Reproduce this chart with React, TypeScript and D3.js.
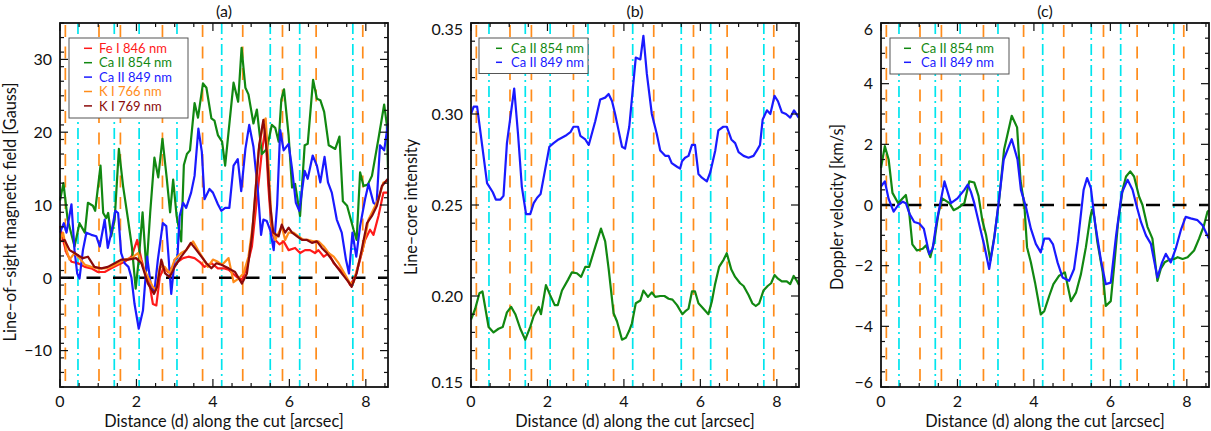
import React from 'react';
import * as d3 from 'd3';

type Pt = [number, number];

// positions of the marked features along the cut [arcsec]
const orangeMarks = [0.14, 1.02, 1.58, 2.68, 3.73, 4.78, 5.82, 6.7, 7.92];
const cyanMarks = [0.47, 1.42, 2.07, 3.06, 4.23, 5.5, 6.27, 7.66];

const xTicks = [0, 2, 4, 6, 8];
const xLabel = 'Distance (d) along the cut [arcsec]';

// (a) line-of-sight magnetic field [Gauss]
const feI846: Pt[] = [
  [0, 7.1], [0.08, 5.2], [0.17, 3.4], [0.3, 2.2], [0.47, 2.0], [0.65, 1.5], [0.82, 1.3], [0.99, 0.8],
  [1.17, 0.8], [1.34, 1.3], [1.52, 1.8], [1.69, 2.2], [1.87, 2.9], [2.02, 5.2], [2.13, 2.5], [2.23, 0.6],
  [2.34, -0.8], [2.43, -3.6], [2.52, -3.8], [2.61, 0.1], [2.72, 1.5], [2.82, 0.8], [2.95, 1.5], [3.08, 2.2],
  [3.22, 2.7], [3.36, 2.9], [3.52, 2.7], [3.65, 2.2], [3.78, 1.5], [3.96, 2.0], [4.13, 1.3], [4.3, 1.3],
  [4.41, 1.1], [4.63, 0.1], [4.76, -0.3], [4.89, 1.5], [5.02, 4.3], [5.15, 10.8], [5.28, 17.3], [5.37, 20.5],
  [5.45, 12.6], [5.54, 6.2], [5.63, 5.2], [5.74, 4.6], [5.85, 5.0], [5.98, 3.8], [6.15, 4.1], [6.28, 3.4],
  [6.41, 3.8], [6.54, 3.8], [6.67, 3.4], [6.76, 3.8], [6.9, 2.9], [7.03, 3.4], [7.16, 2.0], [7.29, 1.3],
  [7.42, 0.6], [7.59, -1.0], [7.72, 0.1], [7.85, 2.5], [7.98, 5.2], [8.11, 6.6], [8.2, 5.9], [8.33, 8.5],
  [8.46, 11.7], [8.58, 11.7],
];
const caII854B: Pt[] = [
  [0, 10.6], [0.09, 13.0], [0.2, 8.0], [0.38, 4.3], [0.51, 7.5], [0.65, 6.2], [0.73, 10.3], [0.86, 9.9],
  [0.92, 9.2], [1.06, 15.4], [1.13, 8.9], [1.21, 8.2], [1.26, 8.9], [1.34, 5.7], [1.43, 8.0], [1.54, 17.7],
  [1.65, 12.6], [1.78, 8.0], [1.88, 4.3], [1.98, -1.5], [2.06, 2.5], [2.16, 9.0], [2.26, 1.0], [2.36, 9.0],
  [2.47, 16.5], [2.57, 13.8], [2.68, 19.1], [2.79, 13.8], [2.88, 9.0], [2.96, 13.5], [3.05, 8.5], [3.17, 5.0],
  [3.24, 15.5], [3.32, 17.0], [3.4, 17.5], [3.52, 24.0], [3.61, 22.0], [3.74, 26.7], [3.83, 26.1], [3.96, 21.9],
  [4.04, 21.6], [4.13, 19.6], [4.24, 18.7], [4.32, 15.4], [4.54, 26.8], [4.66, 24.2], [4.75, 31.6], [4.85, 26.1],
  [4.93, 25.2], [5.06, 21.2], [5.15, 23.1], [5.28, 17.0], [5.41, 17.7], [5.54, 21.0], [5.63, 20.6], [5.72, 18.7],
  [5.79, 24.5], [5.86, 25.9], [5.98, 19.6], [6.07, 12.4], [6.15, 12.9], [6.28, 8.5], [6.4, 18.2], [6.48, 18.4],
  [6.62, 27.2], [6.72, 24.6], [6.81, 24.4], [6.91, 22.8], [7.03, 18.2], [7.2, 17.7], [7.31, 19.4], [7.4, 10.5],
  [7.51, 9.9], [7.68, 6.6], [7.76, 5.2], [7.85, 14.5], [7.94, 12.6], [8.05, 12.8], [8.16, 14.0], [8.33, 19.1],
  [8.48, 23.8], [8.55, 21.0], [8.58, 15.0],
];
const caII849B: Pt[] = [
  [0, 6.2], [0.1, 7.5], [0.17, 6.2], [0.3, 10.1], [0.38, 3.8], [0.45, 0.6], [0.51, -0.1], [0.6, 3.8],
  [0.69, 6.2], [0.82, 5.9], [0.95, 5.7], [1.04, 4.3], [1.17, 8.0], [1.25, 4.1], [1.34, 6.2], [1.45, 9.2],
  [1.52, 8.9], [1.6, 3.4], [1.69, 2.0], [1.79, 1.5], [1.87, 0], [1.95, -3.6], [2.06, -7.0], [2.17, -4.5],
  [2.28, 2.9], [2.37, -0.8], [2.47, -1.9], [2.56, 2.5], [2.69, 7.5], [2.78, 7.1], [2.91, -2.2], [3.0, 2.5],
  [3.07, 2.7], [3.13, 8.5], [3.22, 10.3], [3.3, 9.6], [3.43, 11.7], [3.52, 14.0], [3.62, 20.5], [3.71, 17.3],
  [3.78, 10.8], [3.91, 12.2], [4.0, 11.7], [4.13, 10.1], [4.22, 9.2], [4.32, 9.6], [4.43, 9.6], [4.54, 15.4],
  [4.65, 16.3], [4.74, 11.9], [4.85, 17.7], [4.95, 21.0], [5.06, 18.0], [5.18, 11.7], [5.26, 5.9], [5.32, 8.0],
  [5.41, 7.8], [5.5, 6.5], [5.59, 3.8], [5.68, 10.0], [5.76, 20.3], [5.85, 17.5], [5.98, 18.4], [6.07, 15.0],
  [6.17, 10.3], [6.26, 9.2], [6.4, 14.7], [6.48, 13.6], [6.61, 16.8], [6.72, 15.4], [6.81, 13.1], [6.92, 16.6],
  [7.01, 13.1], [7.11, 11.7], [7.24, 8.0], [7.37, 6.2], [7.48, 2.5], [7.56, 0.6], [7.65, 6.2], [7.75, 2.9],
  [7.85, 7.1], [7.98, 10.8], [8.07, 12.9], [8.2, 10.3], [8.28, 10.0], [8.37, 18.2], [8.48, 17.5], [8.58, 21.2],
];
const kI766: Pt[] = [
  [0, 5.2], [0.08, 6.2], [0.17, 3.8], [0.25, 2.5], [0.38, 3.4], [0.51, 2.7], [0.65, 1.8], [0.82, 1.5],
  [0.99, 1.3], [1.17, 1.3], [1.34, 1.5], [1.52, 2.0], [1.69, 2.5], [1.87, 2.7], [2.04, 3.4], [2.17, 1.5],
  [2.3, 0.1], [2.43, -1.25], [2.52, -1.7], [2.61, 1.5], [2.74, 1.5], [2.87, 0.6], [3.0, 2.5], [3.17, 3.4],
  [3.3, 3.8], [3.48, 5.0], [3.61, 3.8], [3.74, 2.7], [3.87, 1.5], [4.0, 2.5], [4.13, 2.2], [4.24, 1.8],
  [4.41, 2.7], [4.54, -0.6], [4.67, -0.1], [4.8, 0.6], [4.93, 2.9], [5.06, 8.0], [5.19, 17.3], [5.32, 21.4],
  [5.38, 21.9], [5.45, 15.9], [5.54, 7.1], [5.63, 5.2], [5.72, 6.2], [5.8, 7.1], [5.89, 5.2], [5.98, 6.2],
  [6.11, 6.2], [6.24, 5.7], [6.37, 5.2], [6.5, 5.2], [6.63, 5.0], [6.76, 5.0], [6.9, 4.3], [7.03, 3.4],
  [7.16, 2.9], [7.29, 2.0], [7.42, 0.8], [7.59, -0.8], [7.68, -0.6], [7.81, 2.0], [7.94, 4.3], [8.07, 8.0],
  [8.2, 9.4], [8.33, 10.8], [8.46, 13.1], [8.58, 13.3],
];
const kI769: Pt[] = [
  [0, 5.0], [0.12, 5.2], [0.25, 3.8], [0.38, 3.4], [0.5, 3.0], [0.6, 2.7], [0.73, 2.9], [0.9, 1.5],
  [1.08, 1.3], [1.25, 1.5], [1.43, 2.0], [1.6, 2.5], [1.78, 2.5], [1.99, 2.7], [2.13, 2.0], [2.3, -0.8],
  [2.46, -2.2], [2.54, -1.25], [2.65, 2.5], [2.75, 0.6], [2.87, 0.1], [3.0, 1.5], [3.17, 2.9], [3.3, 3.8],
  [3.42, 4.8], [3.57, 3.8], [3.7, 2.9], [3.83, 2.0], [3.96, 1.3], [4.09, 2.0], [4.22, 1.8], [4.41, 1.3],
  [4.58, 0.8], [4.76, -0.8], [4.89, 0.6], [5.02, 5.7], [5.11, 11.7], [5.21, 18.2], [5.32, 21.7], [5.41, 17.3],
  [5.5, 9.9], [5.58, 6.2], [5.72, 5.7], [5.8, 7.3], [5.89, 6.2], [5.98, 6.9], [6.07, 6.2], [6.2, 5.7],
  [6.33, 5.2], [6.46, 5.2], [6.59, 4.8], [6.72, 5.0], [6.85, 4.1], [6.98, 3.4], [7.11, 2.5], [7.24, 1.5],
  [7.37, 0.6], [7.55, -0.6], [7.63, -1.25], [7.76, 0.6], [7.89, 3.8], [8.03, 7.5], [8.16, 8.5], [8.29, 9.9],
  [8.42, 12.6], [8.58, 13.6],
];

// (b) line-core intensity
const int854: Pt[] = [
  [0, 0.187], [0.11, 0.193], [0.22, 0.2015], [0.3, 0.2025], [0.46, 0.183], [0.59, 0.18], [0.72, 0.182],
  [0.83, 0.183], [0.94, 0.191], [1.05, 0.194], [1.16, 0.19], [1.29, 0.182], [1.42, 0.176], [1.55, 0.183],
  [1.64, 0.189], [1.77, 0.194], [1.83, 0.19], [1.96, 0.206], [2.07, 0.2005], [2.19, 0.195], [2.27, 0.195],
  [2.38, 0.203], [2.54, 0.209], [2.64, 0.213], [2.77, 0.2125], [2.88, 0.2105], [2.99, 0.216], [3.09, 0.216],
  [3.25, 0.227], [3.4, 0.237], [3.51, 0.23], [3.6, 0.215], [3.73, 0.1905], [3.82, 0.186], [3.95, 0.176],
  [4.05, 0.177], [4.14, 0.181], [4.21, 0.185], [4.31, 0.196], [4.43, 0.1975], [4.51, 0.203], [4.63, 0.1995],
  [4.73, 0.202], [4.82, 0.1995], [4.95, 0.2], [5.06, 0.2], [5.17, 0.1985], [5.27, 0.198], [5.39, 0.195],
  [5.53, 0.19], [5.6, 0.1915], [5.69, 0.193], [5.78, 0.2025], [5.86, 0.2025], [5.95, 0.196], [6.04, 0.194],
  [6.21, 0.19], [6.3, 0.197], [6.38, 0.206], [6.49, 0.216], [6.61, 0.22], [6.69, 0.2235], [6.81, 0.2145],
  [6.91, 0.2105], [7.04, 0.207], [7.13, 0.2055], [7.26, 0.2005], [7.36, 0.196], [7.45, 0.1945], [7.54, 0.196],
  [7.65, 0.203], [7.76, 0.2055], [7.85, 0.207], [7.94, 0.2115], [8.03, 0.2095], [8.13, 0.208], [8.26, 0.208],
  [8.35, 0.2065], [8.44, 0.211], [8.52, 0.2085], [8.58, 0.206],
];
const int849: Pt[] = [
  [0, 0.3], [0.07, 0.304], [0.16, 0.304], [0.42, 0.262], [0.57, 0.257], [0.65, 0.253], [0.77, 0.253],
  [0.85, 0.255], [0.94, 0.284], [1.13, 0.314], [1.23, 0.289], [1.33, 0.26], [1.44, 0.245], [1.55, 0.245],
  [1.64, 0.251], [1.73, 0.254], [1.82, 0.256], [2.05, 0.282], [2.16, 0.284], [2.29, 0.286], [2.47, 0.288],
  [2.6, 0.29], [2.68, 0.293], [2.8, 0.293], [2.86, 0.288], [2.99, 0.286], [3.08, 0.283], [3.25, 0.296],
  [3.38, 0.308], [3.51, 0.309], [3.6, 0.311], [3.69, 0.307], [3.77, 0.3], [3.86, 0.291], [3.95, 0.282],
  [4.03, 0.281], [4.14, 0.293], [4.31, 0.331], [4.43, 0.33], [4.51, 0.343], [4.6, 0.322], [4.73, 0.3],
  [4.86, 0.289], [4.95, 0.28], [5.08, 0.277], [5.17, 0.277], [5.25, 0.273], [5.39, 0.271], [5.47, 0.27],
  [5.52, 0.274], [5.6, 0.276], [5.69, 0.277], [5.78, 0.283], [5.86, 0.283], [5.95, 0.267], [6.04, 0.265],
  [6.17, 0.263], [6.26, 0.268], [6.39, 0.28], [6.47, 0.291], [6.6, 0.293], [6.69, 0.293], [6.81, 0.286],
  [6.91, 0.284], [7.0, 0.279], [7.13, 0.277], [7.26, 0.276], [7.39, 0.277], [7.48, 0.28], [7.56, 0.283],
  [7.63, 0.297], [7.74, 0.302], [7.83, 0.3], [7.94, 0.31], [8.03, 0.307], [8.13, 0.301], [8.24, 0.3],
  [8.35, 0.298], [8.45, 0.302], [8.57, 0.298],
];

// (c) Doppler velocity [km/s]
const vel854: Pt[] = [
  [0, 1.22], [0.1, 1.94], [0.2, 1.5], [0.3, 0.4], [0.45, 0.06], [0.55, 0.2], [0.65, 0.33], [0.74, -0.28],
  [0.82, -1.3], [0.94, -1.5], [1.09, -1.44], [1.18, -1.33], [1.29, -1.72], [1.39, -1.22], [1.5, -0.3],
  [1.6, 0.22], [1.79, 0.06], [1.9, -0.17], [2.0, -0.11], [2.18, 0.06], [2.31, 0.78], [2.44, 0.74], [2.55, 0.3],
  [2.65, -0.5], [2.75, -1.0], [2.86, -1.83], [2.97, -1.0], [3.09, 0.17], [3.22, 1.83], [3.42, 2.94],
  [3.56, 2.56], [3.65, 0.8], [3.75, 0], [3.82, -1.39], [3.92, -1.89], [4.03, -2.56], [4.18, -3.61],
  [4.27, -3.5], [4.4, -3.0], [4.51, -2.61], [4.66, -2.33], [4.81, -2.22], [4.97, -3.17], [5.1, -2.89],
  [5.23, -2.28], [5.36, -1.39], [5.47, -0.44], [5.52, -0.15], [5.58, -0.4], [5.66, -1.22], [5.8, -2.22],
  [5.88, -3.33], [6.01, -3.17], [6.1, -2.0], [6.2, -0.6], [6.32, 0.5], [6.41, 0.94], [6.52, 1.11],
  [6.62, 0.94], [6.75, 0.28], [6.84, 0], [6.97, -0.72], [7.1, -1.11], [7.23, -2.5], [7.32, -2.1],
  [7.42, -1.89], [7.55, -1.8], [7.67, -1.78], [7.76, -1.72], [7.89, -1.78], [8.02, -1.72], [8.19, -1.5],
  [8.32, -1.11], [8.45, -0.67], [8.54, -0.22], [8.58, -0.17],
];
const vel849: Pt[] = [
  [0, 0.61], [0.1, 0.78], [0.2, 0.2], [0.33, -0.22], [0.45, 0], [0.57, 0.11], [0.65, 0.06], [0.75, -0.3],
  [0.87, -0.56], [1.0, -0.61], [1.12, -0.78], [1.26, -1.61], [1.35, -1.44], [1.45, -0.6], [1.66, 0.78],
  [1.83, 0.06], [2.0, 0.22], [2.18, 0.5], [2.27, 0.67], [2.35, 0.44], [2.44, 0.06], [2.6, -0.8], [2.7, -1.33],
  [2.83, -2.11], [2.96, -1.11], [3.08, 0.1], [3.21, 1.5], [3.42, 2.17], [3.57, 1.5], [3.66, 0.5],
  [3.79, -0.06], [3.92, -0.78], [4.05, -1.28], [4.18, -1.56], [4.27, -1.11], [4.4, -1.11], [4.5, -1.3],
  [4.62, -1.9], [4.75, -2.39], [4.92, -2.5], [5.05, -2.11], [5.15, -1.2], [5.3, 0.5], [5.39, 0.89],
  [5.49, 0.56], [5.6, -0.6], [5.75, -1.8], [5.88, -2.61], [6.01, -2.56], [6.15, -1.0], [6.3, 0.4],
  [6.45, 0.83], [6.58, 0.5], [6.68, 0.0], [6.8, -0.56], [6.93, -1.0], [7.06, -1.28], [7.23, -2.39],
  [7.35, -1.9], [7.45, -1.61], [7.58, -1.89], [7.71, -1.44], [7.85, -0.8], [7.97, -0.39], [8.1, -0.44],
  [8.28, -0.5], [8.41, -0.67], [8.58, -1.11],
];

const COLORS = {
  red: '#ff1a1a',
  green: '#118811',
  blue: '#1a1aff',
  orange: '#ff8c1a',
  darkred: '#8b0a0a',
  cyan: '#00e5ee',
};

const FONT = 'Lato, "Open Sans", sans-serif';
const TOP = 23;
const BOTTOM = 387;
const WIDTH = 328;
const X_MAX = 8.58;

interface Series {
  name: string;
  color: string;
  data: Pt[];
}

interface PanelProps {
  left: number;
  title: string;
  yDomain: [number, number];
  yTicks: number[];
  yMinor: number;
  yFormat: (v: number) => string;
  yLabel: string;
  yLabelX: number;
  yLabelY: number;
  zeroLine: boolean;
  series: Series[];
  legend: { dx: number; w: number; h: number; gap: number; lx0: number; lx1: number; tx: number };
}

const minus = (s: string) => s.replace('-', '\u2212');

const Panel: React.FC<PanelProps> = ({
  left, title, yDomain, yTicks, yMinor, yFormat, yLabel, yLabelX, yLabelY, zeroLine, series, legend,
}) => {
  const x = d3.scaleLinear().domain([0, X_MAX]).range([left, left + WIDTH]);
  const y = d3.scaleLinear().domain(yDomain).range([BOTTOM, TOP]);
  const line = d3.line<Pt>().x(d => x(d[0])).y(d => y(d[1]));

  const xMinor = d3.range(0, X_MAX + 1e-9, 0.5).filter(v => !xTicks.includes(v));
  const yMinorTicks = d3
    .range(yDomain[0], yDomain[1] + 1e-9, yMinor)
    .map(v => +v.toFixed(4))
    .filter(v => !yTicks.some(t => Math.abs(t - v) < 1e-6));

  const right = left + WIDTH;
  const lx = left + legend.dx;
  const ly = 38;

  return (
    <g>
      <defs>
        <clipPath id={`clip-${title}`}>
          <rect x={left} y={TOP} width={WIDTH} height={BOTTOM - TOP} />
        </clipPath>
      </defs>

      {/* feature markers */}
      {orangeMarks.map(m => (
        <line key={`o${m}`} x1={x(m)} x2={x(m)} y1={TOP} y2={BOTTOM}
          stroke={COLORS.orange} strokeWidth={1.7} strokeDasharray="12,9.5" strokeDashoffset={-2} />
      ))}
      {cyanMarks.map(m => (
        <line key={`c${m}`} x1={x(m)} x2={x(m)} y1={TOP} y2={BOTTOM}
          stroke={COLORS.cyan} strokeWidth={1.7} strokeDasharray="11,4,2,4" />
      ))}

      {zeroLine && (
        <line x1={left} x2={right} y1={y(0)} y2={y(0)} stroke="#000" strokeWidth={2.4} strokeDasharray="14,12.5" />
      )}

      <g clipPath={`url(#clip-${title})`}>
        {series.map(s => (
          <path key={s.name} d={line(s.data) || ''} fill="none" stroke={s.color} strokeWidth={2.2} strokeLinejoin="round" />
        ))}
      </g>

      {/* legend */}
      <rect x={lx} y={ly} width={legend.w} height={legend.h} fill="#fff" stroke="#555" strokeWidth={1} />
      {series.map((s, i) => {
        const cy = ly + 10.3 + i * legend.gap;
        return (
          <g key={`lg${s.name}`}>
            <line x1={lx + legend.lx0} x2={lx + legend.lx1} y1={cy} y2={cy} stroke={s.color} strokeWidth={1.5} />
            <text x={lx + legend.tx} y={cy} dy="0.36em" fill={s.color} fontSize={13} fontFamily={FONT}>
              {s.name}
            </text>
          </g>
        );
      })}

      {/* frame and ticks */}
      <rect x={left} y={TOP} width={WIDTH} height={BOTTOM - TOP} fill="none" stroke="#111" strokeWidth={1.8} />
      {xTicks.map(t => (
        <g key={`xt${t}`}>
          <line x1={x(t)} x2={x(t)} y1={BOTTOM} y2={BOTTOM - 8} stroke="#111" strokeWidth={1.2} />
          <line x1={x(t)} x2={x(t)} y1={TOP} y2={TOP + 8} stroke="#111" strokeWidth={1.2} />
          <text x={x(t)} y={407} textAnchor="middle" fontSize={16} fontFamily={FONT} fill="#111">{t}</text>
        </g>
      ))}
      {xMinor.map(t => (
        <g key={`xm${t}`}>
          <line x1={x(t)} x2={x(t)} y1={BOTTOM} y2={BOTTOM - 4} stroke="#111" strokeWidth={1.2} />
          <line x1={x(t)} x2={x(t)} y1={TOP} y2={TOP + 4} stroke="#111" strokeWidth={1.2} />
        </g>
      ))}
      {yTicks.map(t => (
        <g key={`yt${t}`}>
          <line x1={left} x2={left + 8} y1={y(t)} y2={y(t)} stroke="#111" strokeWidth={1.2} />
          <line x1={right} x2={right - 8} y1={y(t)} y2={y(t)} stroke="#111" strokeWidth={1.2} />
          <text x={left - 8} y={Math.min(Math.max(y(t), TOP + 6), BOTTOM - 5)} dy="0.36em" textAnchor="end"
            fontSize={16} fontFamily={FONT} fill="#111">{minus(yFormat(t))}</text>
        </g>
      ))}
      {yMinorTicks.map(t => (
        <g key={`ym${t}`}>
          <line x1={left} x2={left + 4} y1={y(t)} y2={y(t)} stroke="#111" strokeWidth={1.2} />
          <line x1={right} x2={right - 4} y1={y(t)} y2={y(t)} stroke="#111" strokeWidth={1.2} />
        </g>
      ))}

      {/* titles */}
      <text x={left + WIDTH / 2} y={16.5} textAnchor="middle" fontSize={16} fontFamily={FONT} fill="#111">{title}</text>
      <text x={left + WIDTH / 2} y={427} textAnchor="middle" fontSize={16.3} fontFamily={FONT} fill="#111">{xLabel}</text>
      <text transform={`translate(${yLabelX},${yLabelY}) rotate(-90)`} textAnchor="middle" fontSize={16.3}
        fontFamily={FONT} fill="#111">{yLabel}</text>
    </g>
  );
};

const App: React.FC = () => {
  const intFmt = d3.format('.2f');
  const numFmt = (v: number) => String(v);
  return (
    <svg width={1211} height={431} style={{ position: 'absolute', left: 0, top: 0, background: '#fff' }}>
      <Panel
        left={60}
        title="(a)"
        yDomain={[-15, 35]}
        yTicks={[-10, 0, 10, 20, 30]}
        yMinor={2}
        yFormat={numFmt}
        yLabel="Line–of–sight magnetic field [Gauss]"
        yLabelX={16}
        yLabelY={212}
        zeroLine
        series={[
          { name: 'Fe I 846 nm', color: COLORS.red, data: feI846 },
          { name: 'Ca II 854 nm', color: COLORS.green, data: caII854B },
          { name: 'Ca II 849 nm', color: COLORS.blue, data: caII849B },
          { name: 'K I 766 nm', color: COLORS.orange, data: kI766 },
          { name: 'K I 769 nm', color: COLORS.darkred, data: kI769 },
        ]}
        legend={{ dx: 9, w: 119, h: 80, gap: 14.4, lx0: 15, lx1: 23, tx: 30 }}
      />
      <Panel
        left={471}
        title="(b)"
        yDomain={[0.15, 0.35]}
        yTicks={[0.15, 0.2, 0.25, 0.3, 0.35]}
        yMinor={0.01}
        yFormat={intFmt}
        yLabel="Line–core intensity"
        yLabelX={417}
        yLabelY={207}
        zeroLine={false}
        series={[
          { name: 'Ca II 854 nm', color: COLORS.green, data: int854 },
          { name: 'Ca II 849 nm', color: COLORS.blue, data: int849 },
        ]}
        legend={{ dx: 8, w: 109, h: 35.5, gap: 14, lx0: 17, lx1: 23, tx: 32 }}
      />
      <Panel
        left={881}
        title="(c)"
        yDomain={[-6, 6]}
        yTicks={[-6, -4, -2, 0, 2, 4, 6]}
        yMinor={0.5}
        yFormat={numFmt}
        yLabel="Doppler velocity [km/s]"
        yLabelX={843}
        yLabelY={207}
        zeroLine
        series={[
          { name: 'Ca II 854 nm', color: COLORS.green, data: vel854 },
          { name: 'Ca II 849 nm', color: COLORS.blue, data: vel849 },
        ]}
        legend={{ dx: 9, w: 119, h: 36, gap: 14, lx0: 14, lx1: 21, tx: 31 }}
      />
    </svg>
  );
};

export default App;
